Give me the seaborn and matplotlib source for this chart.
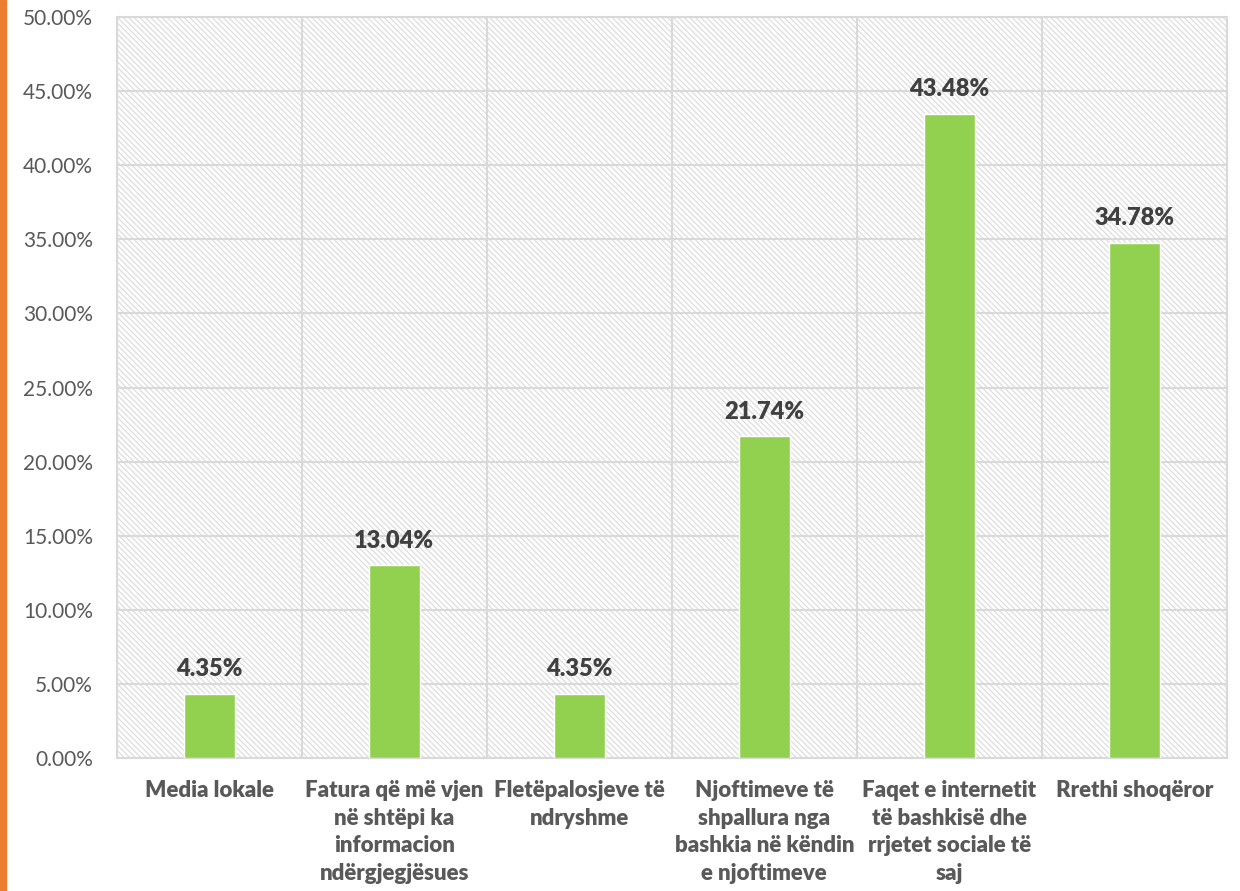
import matplotlib
matplotlib.use("Agg")
import matplotlib.pyplot as plt
import matplotlib.patches as mpatches
import seaborn as sns
import pandas as pd

categories = [
    "Media lokale",
    "Fatura që më vjen\nnë shtëpi ka\ninformacion\nndërgjegjësues",
    "Fletëpalosjeve të\nndryshme",
    "Njoftimeve të\nshpallura nga\nbashkia në këndin\ne njoftimeve",
    "Faqet e internetit\ntë bashkisë dhe\nrrjetet sociale të\nsaj",
    "Rrethi shoqëror",
]
values = [4.35, 13.04, 4.35, 21.74, 43.48, 34.78]
yticks = [0, 5, 10, 15, 20, 25, 30, 35, 40, 45, 50]

df = pd.DataFrame({"cat": categories, "val": values})

sns.set_theme(style="white")
plt.rcParams["font.family"] = ["Lato", "DejaVu Sans"]
plt.rcParams["hatch.color"] = "#e0e0e0"
plt.rcParams["hatch.linewidth"] = 1.0

text_col = "#595959"
grid_col = "#d9d9d9"

fig = plt.figure(figsize=(12.4, 8.91), dpi=100)
ax = fig.add_axes([0.094, 0.149, 0.8955, 0.832])

# hatched plot background
ax.patch.set_facecolor("white")
ax.patch.set_hatch("\\\\\\\\\\\\")
ax.patch.set_edgecolor("#e0e0e0")

sns.barplot(data=df, x="cat", y="val", color="#92d050", width=0.276,
            saturation=1, ax=ax, zorder=3)

ax.set_ylim(0, 50)
ax.set_xlim(-0.5, len(categories) - 0.5)
ax.set_yticks(yticks)
ax.set_yticklabels([f"{t:.2f}%" for t in yticks], fontsize=15, color=text_col)
ax.set_xticks(range(len(categories)))
ax.set_xticklabels(categories, fontsize=16, fontweight="heavy", color=text_col,
                   va="top", linespacing=1.38)
ax.tick_params(axis="x", length=0, pad=16)
ax.tick_params(axis="y", length=0, pad=17)
ax.set_xlabel("")
ax.set_ylabel("")

# grid: horizontal at ticks, vertical at category boundaries
for t in yticks:
    ax.axhline(t, color=grid_col, lw=1.5, zorder=1)
for b in range(1, len(categories)):
    ax.axvline(b - 0.5, color=grid_col, lw=1.5, zorder=1)
for s in ax.spines.values():
    s.set_color(grid_col)
    s.set_linewidth(1.5)

for i, v in enumerate(values):
    ax.text(i, v + 0.9, f"{v:.2f}%", ha="center", va="bottom",
            fontsize=17, fontweight="heavy", color="#404040", zorder=4)

# orange strip on the left edge
fig.patches.append(mpatches.Rectangle((0, 0), 0.0045, 1, transform=fig.transFigure,
                                      color="#ed7d31", zorder=0))

fig.savefig("out.png", dpi=100)
